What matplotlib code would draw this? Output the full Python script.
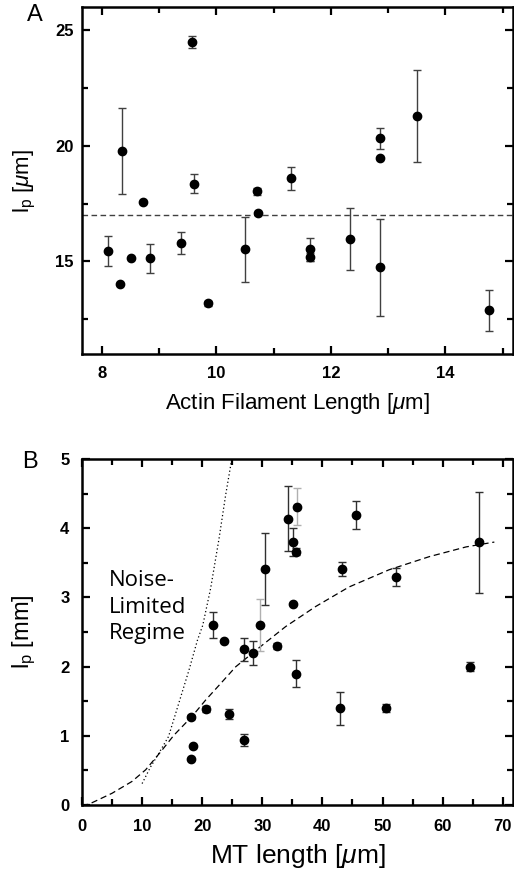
import matplotlib
matplotlib.use("Agg")
import matplotlib.pyplot as plt
import numpy as np
from matplotlib.ticker import MultipleLocator

plt.rcParams.update({
    "font.family": "Liberation Sans",
    "mathtext.fontset": "custom",
    "mathtext.rm": "Liberation Sans",
    "mathtext.it": "Liberation Sans:italic",
    "mathtext.bf": "Liberation Sans:bold",
})

# ============================================================
# Panel A: actin filaments
# ============================================================
actin_len = [8.11, 8.35, 8.31, 8.51, 8.72, 8.83, 9.38, 9.58, 9.6, 9.86,
             10.5, 10.7, 10.72, 11.3, 11.63, 11.63, 12.33, 12.85, 12.85,
             12.85, 13.5, 14.76]
actin_lp = [15.45, 19.77, 14.01, 15.13, 17.56, 15.13, 15.79, 24.5, 18.35, 13.19,
            15.53, 18.03, 17.1, 18.6, 15.52, 15.2, 15.98, 20.32, 19.48,
            14.74, 21.28, 12.89]
actin_err = [0.63, 1.87, 0.0, 0.0, 0.0, 0.62, 0.47, 0.26, 0.41, 0.1,
             1.41, 0.15, 0.0, 0.5, 0.5, 0.18, 1.35, 0.45, 0.0,
             2.1, 2.0, 0.89]
actin_mean = 17.0
a_xticks = [8, 10, 12, 14]
a_yticks = [15, 20, 25]

# ============================================================
# Panel B: microtubules
# ============================================================
mt_len = [34.3, 35.8, 35.1, 35.6, 45.6, 30.4, 43.3, 52.2, 66.1, 35.1,
          21.8, 29.6, 23.6, 26.9, 28.4, 32.5, 35.6, 64.6, 18.2, 20.6,
          24.4, 42.9, 50.6, 26.9, 18.4, 18.2]
mt_lp = [4.14, 4.31, 3.80, 3.66, 4.19, 3.41, 3.41, 3.30, 3.80, 2.90,
         2.60, 2.60, 2.37, 2.25, 2.20, 2.30, 1.90, 2.00, 1.27, 1.39,
         1.32, 1.40, 1.40, 0.94, 0.85, 0.67]
mt_err = [0.47, 0.27, 0.20, 0.05, 0.20, 0.52, 0.10, 0.13, 0.73, 0.0,
          0.19, 0.38, 0.0, 0.17, 0.17, 0.04, 0.19, 0.07, 0.03, 0.04,
          0.07, 0.24, 0.06, 0.09, 0.0, 0.0]
mt_light_err = [1, 11]  # error bars drawn in light grey
b_xticks = [0, 10, 20, 30, 40, 50, 60, 70]
b_yticks = [0, 1, 2, 3, 4, 5]

# model curves
fit_x = [0, 1.1, 5.0, 8.3, 10.6, 13.1, 15.3, 18.3, 20.6, 22.8, 25.6, 28.3,
         29.7, 33.9, 38.9, 44.4, 51.1, 57.8, 63.9, 68.6]
fit_y = [0, 0.01, 0.17, 0.34, 0.51, 0.77, 1.01, 1.28, 1.52, 1.73, 2.0, 2.19,
         2.29, 2.58, 2.87, 3.15, 3.40, 3.59, 3.73, 3.80]
noise_x = [10.0, 11.4, 12.8, 14.4, 16.1, 17.8, 19.2, 20.1, 21.4, 22.8, 23.9, 24.9]
noise_y = [0.31, 0.55, 0.75, 0.99, 1.47, 1.95, 2.38, 2.60, 3.13, 3.85, 4.48, 4.99]


def style_axes(ax, xticks, yticks, xpad, ypad):
    for s in ax.spines.values():
        s.set_linewidth(1.8)
    ax.set_xticks(xticks)
    ax.set_xticklabels([str(t) for t in xticks], fontweight="bold", fontsize=12)
    ax.set_yticks(yticks)
    ax.set_yticklabels([str(t) for t in yticks], fontweight="bold", fontsize=12)
    ax.tick_params(which="both", direction="in", top=True, right=True, width=1.6)
    ax.tick_params(which="major", length=6)
    ax.tick_params(which="minor", length=4)
    ax.tick_params(axis="x", which="major", pad=xpad)
    ax.tick_params(axis="y", which="major", pad=ypad)


fig = plt.figure(figsize=(5.14, 8.74), dpi=100)
axA = fig.add_axes([0.1595, 0.595, 0.8385, 0.397])
axB = fig.add_axes([0.1595, 0.0789, 0.8385, 0.3959])

# ---- panel A
xa = np.array(actin_len)
ya = np.array(actin_lp)
ea = np.array(actin_err)
m = ea > 0
axA.errorbar(xa[m], ya[m], yerr=ea[m], fmt="none", ecolor="#404040",
             elinewidth=1.0, capsize=3, capthick=1.0, zorder=2)
axA.plot(xa, ya, "o", color="black", markersize=6, zorder=3)
axA.axhline(actin_mean, color="#404040", linestyle=(0, (4, 2.5)), linewidth=1.0, zorder=1)

axA.set_xlim(7.65, 15.18)
axA.set_ylim(11.0, 26.0)
axA.xaxis.set_minor_locator(MultipleLocator(1))
axA.yaxis.set_minor_locator(MultipleLocator(2.5))
axA.set_xlabel(r"Actin Filament Length [$\mu$m]", fontsize=16, labelpad=7)
axA.set_ylabel(r"$\mathregular{l_p}$ [$\mu$m]", fontsize=16, labelpad=12)
style_axes(axA, a_xticks, a_yticks, xpad=9, ypad=6)

# ---- panel B
xb = np.array(mt_len)
yb = np.array(mt_lp)
eb = np.array(mt_err)
light = np.zeros(len(xb), dtype=bool)
light[mt_light_err] = True
m1 = (eb > 0) & ~light
m2 = (eb > 0) & light
axB.errorbar(xb[m1], yb[m1], yerr=eb[m1], fmt="none", ecolor="#303030",
             elinewidth=1.0, capsize=3, capthick=1.0, zorder=2)
axB.errorbar(xb[m2], yb[m2], yerr=eb[m2], fmt="none", ecolor="#b0b0b0",
             elinewidth=1.0, capsize=3, capthick=1.0, zorder=2)
axB.plot(xb, yb, "o", color="black", markersize=6, zorder=3)
axB.plot(fit_x, fit_y, color="black", linestyle=(0, (5, 3)), linewidth=0.9, zorder=1)
axB.plot(noise_x, noise_y, color="black", linestyle=(0, (1, 2)), linewidth=0.9, zorder=1)

axB.text(4.5, 2.86, "Noise-\nLimited\nRegime", fontsize=16, family="Open Sans",
         ha="left", va="center", linespacing=1.35)

axB.set_xlim(0, 71.7)
axB.set_ylim(0, 5)
axB.xaxis.set_minor_locator(MultipleLocator(5))
axB.yaxis.set_minor_locator(MultipleLocator(0.5))
axB.set_xlabel(r"MT length [$\mu$m]", fontsize=19, labelpad=6)
axB.set_ylabel(r"$\mathregular{l_p}$ [mm]", fontsize=17, labelpad=16)
style_axes(axB, b_xticks, b_yticks, xpad=10, ypad=9)

fig.text(35 / 514, 1 - 15 / 874, "A", fontsize=17, ha="center", va="center")
fig.text(30 / 514, 1 - 462 / 874, "B", fontsize=17, ha="center", va="center")

fig.savefig("out.png", dpi=100)
